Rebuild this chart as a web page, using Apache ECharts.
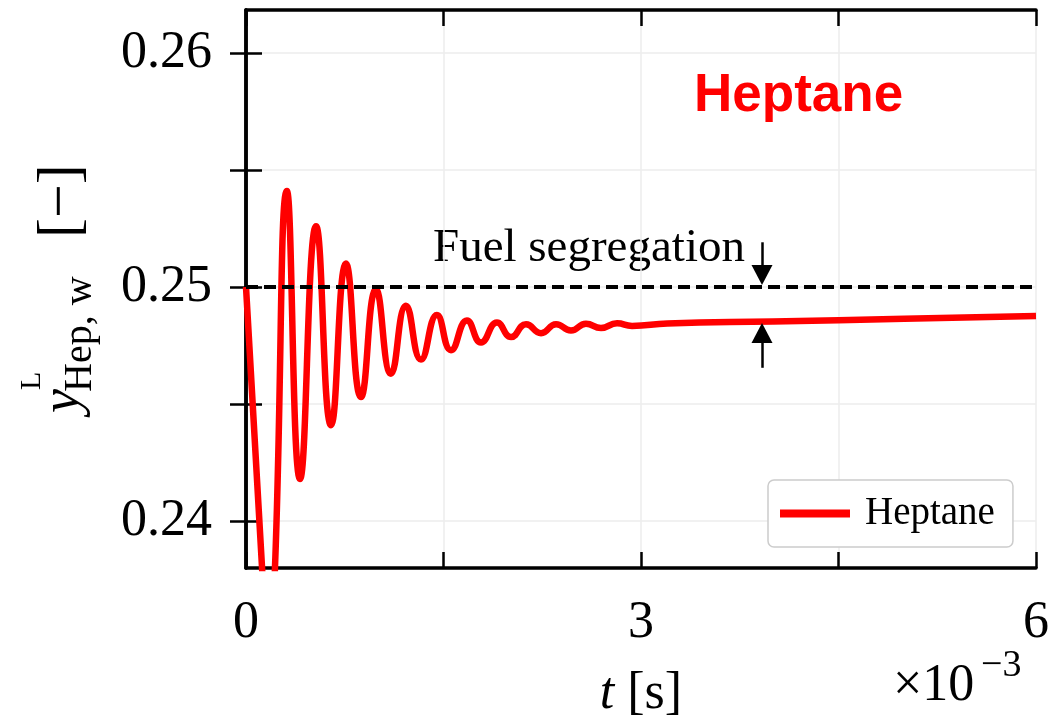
<!DOCTYPE html>
<html>
<head>
<meta charset="utf-8">
<title>Heptane</title>
<script src="https://cdn.jsdelivr.net/npm/echarts@6/dist/echarts.min.js"></script>
<style>
  html, body { margin: 0; padding: 0; background: #fff; }
  #chart { width: 1058px; height: 725px; }
</style>
</head>
<body>
<div id="chart"></div>
<script>
// time in units of 1e-3 s (axis shows x10^-3)
const timeMs = [0, 0.122, 0.171, 0.220, 0.311, 0.410, 0.532, 0.646, 0.759, 0.873, 0.987, 1.101,
  1.215, 1.329, 1.450, 1.557, 1.678, 1.785, 1.906, 2.013, 2.127, 2.241, 2.355, 2.468, 2.582,
  2.696, 2.818, 2.932, 3.2, 4.0, 5.0, 6.0];
const heptane = [0.25, 0.238, 0.2335, 0.238, 0.2541, 0.2418, 0.2526, 0.2441, 0.2510, 0.2453,
  0.2499, 0.2463, 0.2492, 0.2469, 0.2488, 0.2473, 0.24857, 0.24763, 0.24848, 0.24786, 0.24841,
  0.24803, 0.24841, 0.24814, 0.24843, 0.24825, 0.24845, 0.24834, 0.24844, 0.24853, 0.24864,
  0.24876];

const segregationLevel = 0.25;
const arrowT = 3.919;
const arrowDown = [0.25191, 0.25051];
const arrowUp = [0.24655, 0.24804];

const xLabels = [0, 3, 6];
const yTicks = [0.24, 0.245, 0.25, 0.255, 0.26];
const yLabels = [0.24, 0.25, 0.26];

const chart = echarts.init(document.getElementById('chart'));
const serif = '"Liberation Serif", "DejaVu Serif", serif';

const axisLineStyle = { show: true, lineStyle: { color: '#000', width: 3.5 } };
const tickStyle = { show: true, inside: true, length: 16, lineStyle: { color: '#000', width: 2.5 } };

const option = {
  animation: false,
  backgroundColor: '#fff',
  title: {
    text: 'Heptane',
    left: 694, top: 70, padding: 0,
    textStyle: { color: '#ff0000', fontFamily: '"Liberation Sans", Arial, sans-serif', fontWeight: 'bold', fontSize: 53 }
  },
  grid: { left: 246, right: 22, top: 10, bottom: 156 },
  legend: {
    left: 768, top: 480,
    padding: [14, 18, 14, 12],
    backgroundColor: '#fff',
    borderColor: '#cccccc', borderWidth: 1.5, borderRadius: 6,
    icon: 'rect', itemWidth: 70, itemHeight: 8,
    data: ['Heptane'],
    textStyle: { fontFamily: serif, fontSize: 39, color: '#000', padding: [0, 0, 0, 10] }
  },
  xAxis: [{
    type: 'value', min: 0, max: 6, interval: 1.5,
    name: '{i|t}{n| [s]}',
    nameLocation: 'middle', nameGap: 100,
    nameTextStyle: {
      rich: {
        i: { fontFamily: serif, fontStyle: 'italic', fontSize: 52, color: '#000' },
        n: { fontFamily: serif, fontSize: 52, color: '#000' }
      }
    },
    axisLine: axisLineStyle,
    axisTick: tickStyle,
    axisLabel: {
      margin: 29, fontFamily: serif, fontSize: 52, color: '#000',
      formatter: v => xLabels.indexOf(v) >= 0 ? String(v) : ''
    },
    splitLine: { show: true, lineStyle: { color: '#ececec', width: 1.5 } }
  }, {
    type: 'value', min: 0, max: 6, interval: 1.5, position: 'top',
    axisLine: axisLineStyle, axisTick: tickStyle,
    axisLabel: { show: false }, splitLine: { show: false }
  }],
  yAxis: [{
    type: 'value', min: 0.238, max: 0.26183,
    axisLine: axisLineStyle,
    axisTick: Object.assign({ customValues: yTicks }, tickStyle),
    axisLabel: {
      customValues: yLabels, margin: 34, padding: [12, 0, 0, 0],
      fontFamily: serif, fontSize: 52, color: '#000',
      formatter: v => v.toFixed(2)
    },
    splitLine: { show: true, lineStyle: { color: '#ececec', width: 1.5 } }
  }, {
    type: 'value', min: 0.238, max: 0.26183, position: 'right',
    axisLine: axisLineStyle,
    axisTick: Object.assign({ customValues: yTicks }, tickStyle),
    axisLabel: { show: false }, splitLine: { show: false }
  }],
  graphic: [
    {
      type: 'text', left: 433, top: 225,
      style: { text: 'Fuel segregation', fontFamily: serif, fontSize: 47, fill: '#000' }
    },
    {
      type: 'group', x: 80, y: 413, rotation: Math.PI / 2,
      children: [
        { type: 'text', x: 0, y: -16, style: { text: 'y', fontFamily: serif, fontStyle: 'italic', fontSize: 54, fill: '#000', verticalAlign: 'middle' } },
        { type: 'text', x: 23, y: -48, style: { text: 'L', fontFamily: serif, fontSize: 30, fill: '#000', verticalAlign: 'middle' } },
        { type: 'text', x: 21, y: 0, style: { text: 'Hep, w', fontFamily: serif, fontSize: 40, fill: '#000', verticalAlign: 'middle' } },
        { type: 'text', x: 175, y: -18, style: { text: '[\u2212]', fontFamily: serif, fontSize: 60, fill: '#000', verticalAlign: 'middle' } }
      ]
    },
    {
      type: 'text', x: 893, y: 686,
      style: { text: '\u00d710', fontFamily: serif, fontSize: 52, fill: '#000', verticalAlign: 'middle' }
    },
    {
      type: 'text', x: 981, y: 666,
      style: { text: '\u22123', fontFamily: serif, fontSize: 38, fill: '#000', verticalAlign: 'middle' }
    }
  ],
  series: [{
    name: 'Heptane',
    type: 'line',
    data: timeMs.map((t, i) => [t, heptane[i]]),
    smooth: 0.5,
    showSymbol: false,
    lineStyle: { color: '#ff0000', width: 6.5 },
    itemStyle: { color: '#ff0000' },
    z: 3
  }, {
    name: 'segregation',
    type: 'line',
    data: [[0, segregationLevel], [6, segregationLevel]],
    showSymbol: false,
    silent: true,
    lineStyle: { color: '#000', width: 4, type: [12, 6] },
    z: 4,
    markLine: {
      silent: true,
      symbol: ['none', 'triangle'],
      symbolSize: [21, 20],
      label: { show: false },
      lineStyle: { color: '#000', width: 2.5, type: 'solid' },
      itemStyle: { color: '#000' },
      data: [
        [{ coord: [arrowT, arrowDown[0]] }, { coord: [arrowT, arrowDown[1]] }],
        [{ coord: [arrowT, arrowUp[0]] }, { coord: [arrowT, arrowUp[1]] }]
      ]
    }
  }]
};

chart.setOption(option);
window.addEventListener('resize', () => chart.resize());
</script>
</body>
</html>
